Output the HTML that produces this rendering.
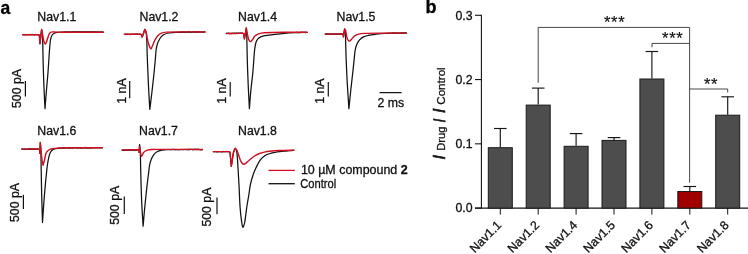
<!DOCTYPE html>
<html lang="en">
<head>
<meta charset="utf-8">
<title>Figure</title>
<style>
html,body{margin:0;padding:0;background:#fff;}
body{width:748px;height:254px;overflow:hidden;}
svg{display:block;font-family:'Liberation Sans', sans-serif;}
</style>
</head>
<body>
<svg width="748" height="254" viewBox="0 0 748 254">
<rect x="0" y="0" width="748" height="254" fill="#ffffff"/>
<text x="0.40" y="13.50" font-size="17.5" font-weight="bold" stroke="#000" stroke-width="0.3" fill="#000">a</text>
<text x="425.60" y="13.40" font-size="18" font-weight="bold" stroke="#000" stroke-width="0.3" fill="#000">b</text>
<path d="M22.80 34.70 C24.00 34.70 27.60 34.70 30.00 34.70 C32.67 34.70 37.23 34.58 38.80 34.70 C39.11 34.72 39.30 35.28 39.40 35.40 C39.48 36.78 39.82 42.32 39.90 43.70 C40.18 41.33 41.32 31.87 41.60 29.50 C41.73 30.25 42.28 32.48 42.40 34.00 C42.60 36.58 42.71 41.33 42.80 45.00 C42.93 50.17 43.01 58.33 43.20 65.00 C43.40 72.17 43.70 80.72 44.00 88.00 C44.28 94.90 44.83 105.25 45.00 108.70 C45.22 105.92 45.84 97.56 46.30 92.00 C46.77 86.38 47.40 80.00 47.80 75.00 C48.15 70.67 48.42 66.17 48.70 62.00 C48.97 58.00 49.20 53.67 49.50 50.00 C49.77 46.66 50.08 42.45 50.50 40.00 C50.78 38.38 51.35 36.43 52.00 35.30 C52.53 34.38 53.45 33.67 54.40 33.20 C55.38 32.72 56.71 32.53 57.90 32.40 C59.67 32.20 62.63 32.04 65.00 32.00 C69.52 31.92 78.62 31.90 85.00 31.90 C91.10 31.90 100.25 31.98 103.30 32.00" fill="none" stroke="#111111" stroke-width="1.25" stroke-linejoin="round" stroke-linecap="round"/>
<path d="M124.40 34.30 C125.67 34.30 129.47 34.30 132.00 34.30 C134.70 34.30 139.03 34.22 140.60 34.30 C140.91 34.32 141.25 34.53 141.40 34.80 C141.65 35.25 141.78 37.13 142.10 37.00 C142.42 36.87 142.94 35.01 143.30 34.00 C143.75 32.73 144.55 30.17 144.80 29.40 C145.02 29.83 145.92 31.05 146.10 32.00 C146.43 33.77 146.67 37.33 146.80 40.00 C146.98 43.83 147.03 50.00 147.20 55.00 C147.37 60.00 147.59 65.00 147.80 70.00 C148.05 75.83 148.37 83.45 148.70 90.00 C149.03 96.44 149.62 106.08 149.80 109.30 C150.12 106.75 151.10 99.10 151.70 94.00 C152.33 88.62 153.05 82.17 153.60 77.00 C154.10 72.34 154.58 67.50 155.00 63.00 C155.40 58.67 155.73 53.08 156.10 50.00 C156.32 48.14 156.77 46.05 157.20 44.50 C157.57 43.19 158.08 41.91 158.70 40.70 C159.35 39.43 160.20 37.93 161.10 36.90 C161.94 35.93 162.95 35.07 164.10 34.50 C165.42 33.85 167.32 33.29 169.00 33.00 C171.12 32.63 174.19 32.41 176.80 32.30 C180.30 32.15 185.60 32.15 190.00 32.10 C194.70 32.05 202.50 32.02 205.00 32.00" fill="none" stroke="#111111" stroke-width="1.25" stroke-linejoin="round" stroke-linecap="round"/>
<path d="M226.40 33.40 C228.00 33.40 233.20 33.40 236.00 33.40 C238.40 33.40 241.90 33.22 243.20 33.40 C243.61 33.46 243.71 34.09 243.80 34.50 C244.00 35.40 244.30 38.08 244.40 38.80 C244.72 37.00 245.98 29.80 246.30 28.00 C246.38 29.33 246.72 33.33 246.80 36.00 C246.97 41.33 247.07 52.00 247.30 60.00 C247.53 68.17 247.85 76.88 248.20 85.00 C248.54 92.90 249.20 104.75 249.40 108.70 C249.65 105.58 250.35 95.78 250.90 90.00 C251.41 84.66 252.22 79.00 252.70 74.00 C253.15 69.34 253.48 64.00 253.80 60.00 C254.06 56.67 254.27 52.83 254.60 50.00 C254.88 47.65 255.28 44.82 255.80 43.00 C256.20 41.61 256.80 40.17 257.70 39.10 C258.60 38.03 259.97 37.18 261.20 36.60 C262.41 36.03 263.78 35.82 265.10 35.60 C267.37 35.22 271.58 34.68 274.80 34.30 C277.99 33.92 281.19 33.55 284.40 33.30 C287.77 33.03 291.46 32.84 295.00 32.70 C298.78 32.55 305.08 32.45 307.10 32.40" fill="none" stroke="#111111" stroke-width="1.25" stroke-linejoin="round" stroke-linecap="round"/>
<path d="M325.20 34.10 C326.83 34.10 332.07 34.10 335.00 34.10 C337.60 34.10 341.40 33.65 342.80 34.10 C343.68 34.38 343.30 36.35 343.40 36.80 C343.60 35.50 344.40 30.30 344.60 29.00 C344.72 29.33 345.24 30.30 345.30 31.00 C345.47 32.83 345.51 37.00 345.60 40.00 C345.73 44.50 345.87 52.00 346.10 58.00 C346.37 65.00 346.76 74.00 347.20 82.00 C347.67 90.45 348.62 104.25 348.90 108.70 C349.22 105.58 350.18 95.78 350.80 90.00 C351.37 84.66 352.07 78.83 352.60 74.00 C353.08 69.67 353.57 65.00 354.00 61.00 C354.40 57.33 354.68 52.87 355.20 50.00 C355.58 47.87 356.37 45.48 357.10 43.80 C357.72 42.38 358.55 41.03 359.60 39.90 C360.67 38.75 362.03 37.62 363.50 36.90 C365.13 36.10 367.39 35.52 369.40 35.10 C371.53 34.65 373.99 34.45 376.30 34.20 C378.77 33.93 381.56 33.64 384.20 33.50 C387.32 33.33 391.40 33.26 395.00 33.20 C398.72 33.13 404.58 33.12 406.50 33.10" fill="none" stroke="#111111" stroke-width="1.25" stroke-linejoin="round" stroke-linecap="round"/>
<path d="M21.80 149.10 C23.17 149.10 27.27 149.10 30.00 149.10 C32.87 149.10 37.40 148.95 39.00 149.10 C39.36 149.13 39.52 149.65 39.60 150.00 C39.75 150.70 39.85 152.75 39.90 153.30 C39.97 151.50 40.23 144.30 40.30 142.50 C40.40 144.08 40.80 148.83 40.90 152.00 C41.05 156.58 41.09 164.00 41.20 170.00 C41.33 177.17 41.49 186.67 41.70 195.00 C41.92 203.75 42.37 217.92 42.50 222.50 C42.73 219.08 43.42 208.42 43.90 202.00 C44.35 196.00 44.95 189.00 45.40 184.00 C45.76 180.00 46.27 175.17 46.60 172.00 C46.85 169.66 47.02 167.32 47.40 165.00 C47.87 162.15 48.73 157.25 49.40 154.90 C49.81 153.47 50.67 151.85 51.40 150.90 C52.00 150.12 52.89 149.56 53.80 149.20 C54.87 148.78 56.45 148.56 57.80 148.40 C59.67 148.18 62.60 147.96 65.00 147.90 C68.70 147.80 75.00 147.83 80.00 147.80 C86.25 147.77 98.75 147.72 102.50 147.70" fill="none" stroke="#111111" stroke-width="1.25" stroke-linejoin="round" stroke-linecap="round"/>
<path d="M122.20 150.20 C123.50 150.18 127.40 150.13 130.00 150.10 C132.73 150.07 137.08 149.63 138.60 150.00 C139.36 150.18 139.02 151.92 139.10 152.30 C139.18 151.02 139.52 145.88 139.60 144.60 C139.72 145.83 140.19 149.52 140.30 152.00 C140.48 156.23 140.54 164.00 140.70 170.00 C140.92 178.00 141.20 190.65 141.60 200.00 C141.97 208.71 142.85 221.75 143.10 226.10 C143.40 222.75 144.25 212.68 144.90 206.00 C145.55 199.33 146.38 191.50 147.00 186.00 C147.49 181.66 148.17 176.50 148.60 173.00 C148.93 170.33 149.18 167.22 149.60 165.00 C149.94 163.20 150.43 161.40 151.10 159.70 C151.77 158.00 152.62 156.13 153.60 154.80 C154.51 153.57 155.67 152.46 157.00 151.70 C158.38 150.92 160.27 150.45 161.90 150.10 C163.51 149.76 165.16 149.65 166.80 149.60 C169.82 149.50 175.60 149.51 180.00 149.50 C185.95 149.48 198.75 149.50 202.50 149.50" fill="none" stroke="#111111" stroke-width="1.25" stroke-linejoin="round" stroke-linecap="round"/>
<path d="M213.40 151.60 C214.83 151.60 219.30 151.60 222.00 151.60 C224.53 151.60 228.33 151.60 229.60 151.60 C229.68 151.92 230.01 152.85 230.10 153.50 C230.28 154.82 230.51 157.50 230.70 159.50 C230.90 161.62 231.20 165.08 231.30 166.20 C231.47 165.17 231.97 162.07 232.30 160.00 C232.68 157.63 233.10 153.95 233.60 152.00 C233.94 150.69 235.02 148.92 235.30 148.30 C235.50 148.67 236.29 149.69 236.50 150.50 C236.82 151.75 237.05 154.02 237.20 155.80 C237.45 158.72 237.75 163.93 238.00 168.00 C238.30 172.87 238.75 180.33 239.00 185.00 C239.20 188.67 239.33 192.50 239.50 196.00 C239.66 199.33 239.78 202.83 240.00 206.00 C240.21 209.00 240.53 212.42 240.80 215.00 C241.02 217.17 241.37 219.78 241.60 221.50 C241.77 222.77 241.97 224.32 242.20 225.30 C242.37 226.03 242.72 227.40 243.00 227.40 C243.28 227.40 243.67 226.02 243.90 225.30 C244.22 224.32 244.68 222.79 244.90 221.50 C245.25 219.45 245.63 215.75 246.00 213.00 C246.36 210.33 246.69 207.66 247.10 205.00 C247.57 202.00 248.26 198.34 248.80 195.00 C249.37 191.50 249.73 187.50 250.50 184.00 C251.24 180.61 252.50 176.67 253.40 174.00 C254.09 171.95 254.95 169.95 255.90 168.00 C257.02 165.70 258.57 162.27 260.10 160.20 C261.45 158.38 263.45 156.72 265.10 155.60 C266.57 154.60 268.38 154.02 270.00 153.50 C271.56 153.00 273.22 152.80 274.80 152.50 C276.36 152.20 277.93 151.93 279.50 151.70 C281.10 151.47 282.76 151.27 284.40 151.10 C286.05 150.93 287.83 150.83 289.40 150.70 C290.87 150.58 293.07 150.37 293.80 150.30" fill="none" stroke="#111111" stroke-width="1.25" stroke-linejoin="round" stroke-linecap="round"/>
<path d="M22.80 34.54 L23.70 34.39 L24.60 34.84 L25.50 34.32 L26.40 34.73 L27.30 34.58 L28.20 34.30 L29.10 34.71 L30.00 34.28 L30.90 34.64 L31.80 34.31 L32.70 34.33 L33.60 34.63 L34.50 34.99 L35.40 34.36 L36.30 34.45 L37.20 34.81 L38.10 35.10" fill="none" stroke="#111111" stroke-width="0.9" stroke-linejoin="round"/>
<path d="M60.00 32.17 L60.90 32.01 L61.80 32.53 L62.70 31.69 L63.60 32.42 L64.50 31.91 L65.40 31.78 L66.30 31.76 L67.20 31.93 L68.10 32.38 L69.00 31.81 L69.90 32.17 L70.80 32.23 L71.70 31.99 L72.60 32.14 L73.50 31.71 L74.40 31.70 L75.30 31.84 L76.20 32.26 L77.10 32.03 L78.00 31.93 L78.90 32.18 L79.80 32.06 L80.70 31.92 L81.60 32.36 L82.50 32.28 L83.40 31.87 L84.30 32.17 L85.20 32.12 L86.10 32.44 L87.00 32.31 L87.90 31.91 L88.80 32.53 L89.70 31.76 L90.60 32.03 L91.50 32.33 L92.40 31.79 L93.30 32.09 L94.20 31.69 L95.10 32.25 L96.00 32.34 L96.90 32.17 L97.80 32.44 L98.70 31.93 L99.60 32.28 L100.50 32.18 L101.40 32.17 L102.30 32.06 L103.20 32.41" fill="none" stroke="#111111" stroke-width="0.9" stroke-linejoin="round"/>
<path d="M124.40 34.70 L125.30 34.28 L126.20 34.45 L127.10 33.90 L128.00 34.48 L128.90 34.43 L129.80 34.74 L130.70 34.59 L131.60 34.11 L132.50 34.20 L133.40 34.45 L134.30 33.87 L135.20 34.27 L136.10 34.00 L137.00 33.96 L137.90 33.90 L138.80 34.54 L139.70 33.97" fill="none" stroke="#111111" stroke-width="0.9" stroke-linejoin="round"/>
<path d="M180.00 31.77 L180.90 31.90 L181.80 32.33 L182.70 31.62 L183.60 31.95 L184.50 32.04 L185.40 32.35 L186.30 32.29 L187.20 32.33 L188.10 31.80 L189.00 31.92 L189.90 31.87 L190.80 32.35 L191.70 32.41 L192.60 31.69 L193.50 31.71 L194.40 31.76 L195.30 31.76 L196.20 31.99 L197.10 32.08 L198.00 31.79 L198.90 31.55 L199.80 31.93 L200.70 31.88 L201.60 32.06 L202.50 32.41 L203.40 32.17 L204.30 32.01" fill="none" stroke="#111111" stroke-width="0.9" stroke-linejoin="round"/>
<path d="M226.40 33.51 L227.30 33.56 L228.20 33.00 L229.10 33.76 L230.00 33.65 L230.90 33.74 L231.80 33.67 L232.70 33.30 L233.60 33.31 L234.50 33.04 L235.40 33.52 L236.30 33.01 L237.20 33.01 L238.10 33.14 L239.00 33.10 L239.90 33.26 L240.80 33.00 L241.70 32.95 L242.60 33.09" fill="none" stroke="#111111" stroke-width="0.9" stroke-linejoin="round"/>
<path d="M296.00 32.14 L296.90 32.37 L297.80 32.06 L298.70 32.81 L299.60 32.57 L300.50 32.14 L301.40 32.23 L302.30 32.31 L303.20 32.31 L304.10 32.09 L305.00 32.73 L305.90 32.85 L306.80 32.37" fill="none" stroke="#111111" stroke-width="0.9" stroke-linejoin="round"/>
<path d="M325.20 34.09 L326.10 33.73 L327.00 33.74 L327.90 33.96 L328.80 33.89 L329.70 34.40 L330.60 33.80 L331.50 33.67 L332.40 34.51 L333.30 34.13 L334.20 33.78 L335.10 34.14 L336.00 33.67 L336.90 34.13 L337.80 34.53 L338.70 34.43 L339.60 34.28 L340.50 33.89 L341.40 33.98 L342.30 33.80" fill="none" stroke="#111111" stroke-width="0.9" stroke-linejoin="round"/>
<path d="M392.00 33.34 L392.90 33.13 L393.80 33.35 L394.70 32.95 L395.60 32.85 L396.50 33.38 L397.40 33.54 L398.30 33.42 L399.20 33.38 L400.10 33.39 L401.00 33.32 L401.90 32.85 L402.80 33.12 L403.70 32.97 L404.60 32.68 L405.50 32.68 L406.40 32.90" fill="none" stroke="#111111" stroke-width="0.9" stroke-linejoin="round"/>
<path d="M21.80 148.88 L22.70 149.27 L23.60 149.51 L24.50 149.05 L25.40 149.49 L26.30 149.54 L27.20 149.51 L28.10 148.98 L29.00 148.85 L29.90 148.85 L30.80 148.83 L31.70 148.83 L32.60 149.21 L33.50 149.46 L34.40 149.41 L35.30 149.08 L36.20 149.24 L37.10 149.37 L38.00 148.73" fill="none" stroke="#111111" stroke-width="0.9" stroke-linejoin="round"/>
<path d="M62.00 147.94 L62.90 148.17 L63.80 148.05 L64.70 148.02 L65.60 147.77 L66.50 147.50 L67.40 148.05 L68.30 147.63 L69.20 148.05 L70.10 148.20 L71.00 147.68 L71.90 147.69 L72.80 148.18 L73.70 147.97 L74.60 147.47 L75.50 147.43 L76.40 147.45 L77.30 148.13 L78.20 148.04 L79.10 147.44 L80.00 148.05 L80.90 148.19 L81.80 147.89 L82.70 147.61 L83.60 147.79 L84.50 147.41 L85.40 147.31 L86.30 148.16 L87.20 147.87 L88.10 147.76 L89.00 148.12 L89.90 147.67 L90.80 148.06 L91.70 148.02 L92.60 147.46 L93.50 147.50 L94.40 147.53 L95.30 147.48 L96.20 147.79 L97.10 147.50 L98.00 147.64 L98.90 147.38 L99.80 148.08 L100.70 147.57 L101.60 147.66" fill="none" stroke="#111111" stroke-width="0.9" stroke-linejoin="round"/>
<path d="M122.20 150.28 L123.10 150.56 L124.00 150.12 L124.90 150.56 L125.80 150.18 L126.70 150.20 L127.60 150.19 L128.50 149.73 L129.40 150.10 L130.30 149.86 L131.20 149.70 L132.10 150.41 L133.00 149.84 L133.90 150.10 L134.80 150.32 L135.70 150.17 L136.60 149.95 L137.50 150.12" fill="none" stroke="#111111" stroke-width="0.9" stroke-linejoin="round"/>
<path d="M170.00 149.55 L170.90 149.76 L171.80 149.15 L172.70 149.55 L173.60 149.27 L174.50 149.30 L175.40 149.75 L176.30 149.51 L177.20 149.56 L178.10 149.73 L179.00 149.87 L179.90 149.45 L180.80 149.60 L181.70 149.50 L182.60 149.51 L183.50 149.67 L184.40 149.46 L185.30 149.53 L186.20 149.48 L187.10 149.90 L188.00 149.68 L188.90 149.84 L189.80 149.90 L190.70 149.28 L191.60 149.55 L192.50 149.90 L193.40 149.81 L194.30 149.17 L195.20 149.16 L196.10 149.45 L197.00 149.12 L197.90 149.27 L198.80 149.12 L199.70 149.65 L200.60 149.76 L201.50 149.86 L202.40 149.19" fill="none" stroke="#111111" stroke-width="0.9" stroke-linejoin="round"/>
<path d="M213.40 151.79 L214.30 151.74 L215.20 151.28 L216.10 151.94 L217.00 152.02 L217.90 151.35 L218.80 152.01 L219.70 151.51 L220.60 151.59 L221.50 152.04 L222.40 151.90 L223.30 151.30 L224.20 151.54 L225.10 151.61 L226.00 151.46 L226.90 151.33 L227.80 151.44 L228.70 151.80" fill="none" stroke="#111111" stroke-width="0.9" stroke-linejoin="round"/>
<path d="M22.80 34.70 C24.00 34.70 27.60 34.70 30.00 34.70 C32.67 34.70 37.23 34.58 38.80 34.70 C39.11 34.72 39.30 35.28 39.40 35.40 C39.48 36.78 39.82 42.32 39.90 43.70 C40.18 41.33 41.32 31.87 41.60 29.50 C41.77 30.42 42.25 33.17 42.60 35.00 C42.97 36.92 43.35 39.47 43.80 41.00 C44.13 42.13 44.80 44.20 45.30 44.20 C45.80 44.20 46.40 42.11 46.80 41.00 C47.37 39.45 48.17 36.25 48.70 34.90 C48.99 34.16 49.58 33.35 50.00 32.90 C50.31 32.56 50.77 32.37 51.20 32.20 C51.63 32.03 52.12 31.91 52.60 31.90 C53.40 31.88 54.87 32.05 56.00 32.10 C57.23 32.15 58.67 32.19 60.00 32.20 C64.00 32.22 73.33 32.20 80.00 32.20 C87.22 32.20 99.42 32.20 103.30 32.20" fill="none" stroke="#cf1020" stroke-width="1.45" stroke-linejoin="round" stroke-linecap="round"/>
<path d="M124.40 34.30 C125.67 34.30 129.47 34.30 132.00 34.30 C134.70 34.30 139.03 34.22 140.60 34.30 C140.91 34.32 141.25 34.53 141.40 34.80 C141.65 35.25 141.78 37.13 142.10 37.00 C142.42 36.87 142.94 35.01 143.30 34.00 C143.75 32.73 144.55 30.17 144.80 29.40 C145.03 30.00 145.88 31.75 146.20 33.00 C146.77 35.18 147.45 39.90 148.20 42.50 C148.81 44.61 149.97 48.10 150.70 48.60 C151.43 49.10 152.06 46.59 152.60 45.50 C153.25 44.18 153.80 42.24 154.60 40.70 C155.43 39.10 156.45 37.15 157.60 35.90 C158.67 34.74 160.05 33.83 161.50 33.20 C162.97 32.57 164.73 32.22 166.40 32.10 C169.48 31.88 175.47 31.92 180.00 31.90 C186.43 31.87 200.83 31.90 205.00 31.90" fill="none" stroke="#cf1020" stroke-width="1.45" stroke-linejoin="round" stroke-linecap="round"/>
<path d="M226.40 33.40 C228.00 33.40 233.20 33.40 236.00 33.40 C238.40 33.40 241.90 33.22 243.20 33.40 C243.61 33.46 243.71 34.09 243.80 34.50 C244.00 35.40 244.30 38.08 244.40 38.80 C244.72 37.00 245.98 29.80 246.30 28.00 C246.47 28.92 246.92 31.68 247.30 33.50 C247.70 35.42 248.13 38.13 248.70 39.50 C249.08 40.42 250.05 41.70 250.70 41.70 C251.35 41.70 252.02 40.28 252.60 39.50 C253.27 38.60 253.77 37.17 254.70 36.30 C255.70 35.37 257.16 34.41 258.60 33.90 C260.23 33.32 262.50 32.93 264.50 32.80 C268.73 32.53 277.50 32.38 284.00 32.30 C291.10 32.22 303.25 32.30 307.10 32.30" fill="none" stroke="#cf1020" stroke-width="1.45" stroke-linejoin="round" stroke-linecap="round"/>
<path d="M325.20 34.10 C326.83 34.10 332.07 34.10 335.00 34.10 C337.60 34.10 341.40 33.65 342.80 34.10 C343.68 34.38 343.30 36.35 343.40 36.80 C343.60 35.50 344.40 30.30 344.60 29.00 C344.77 29.25 345.43 29.92 345.60 30.50 C345.90 31.50 346.07 33.53 346.40 35.00 C346.73 36.45 347.12 38.25 347.60 39.30 C347.97 40.09 348.67 41.27 349.30 41.30 C349.93 41.33 350.75 40.16 351.40 39.50 C352.30 38.58 353.50 36.70 354.70 35.80 C355.83 34.95 357.22 34.44 358.60 34.10 C360.23 33.70 362.52 33.49 364.50 33.40 C368.07 33.23 374.83 33.14 380.00 33.10 C387.00 33.05 402.08 33.10 406.50 33.10" fill="none" stroke="#cf1020" stroke-width="1.45" stroke-linejoin="round" stroke-linecap="round"/>
<path d="M21.80 149.10 C23.17 149.10 27.27 149.10 30.00 149.10 C32.87 149.10 37.40 148.95 39.00 149.10 C39.36 149.13 39.52 149.65 39.60 150.00 C39.75 150.70 39.85 152.75 39.90 153.30 C39.97 151.50 40.23 144.30 40.30 142.50 C40.42 143.75 40.76 147.50 41.00 150.00 C41.28 152.92 41.65 157.47 42.00 160.00 C42.24 161.76 42.92 164.33 43.10 165.20 C43.33 164.33 44.07 161.74 44.50 160.00 C44.98 158.02 45.33 154.93 46.00 153.30 C46.50 152.07 47.50 150.97 48.50 150.20 C49.50 149.43 50.77 149.00 52.00 148.70 C53.42 148.35 55.32 148.18 57.00 148.10 C60.00 147.95 65.67 147.84 70.00 147.80 C77.58 147.73 97.08 147.72 102.50 147.70" fill="none" stroke="#cf1020" stroke-width="1.45" stroke-linejoin="round" stroke-linecap="round"/>
<path d="M122.20 150.00 C123.50 149.98 127.40 149.92 130.00 149.90 C132.73 149.88 137.08 149.50 138.60 149.90 C139.39 150.11 139.02 151.90 139.10 152.30 C139.18 151.35 139.52 147.55 139.60 146.60 C139.73 147.58 140.05 150.90 140.40 152.50 C140.68 153.78 141.15 156.22 141.70 156.20 C142.25 156.18 142.87 153.37 143.70 152.40 C144.48 151.49 145.57 150.81 146.70 150.40 C148.02 149.92 149.94 149.59 151.60 149.50 C154.65 149.33 160.53 149.41 165.00 149.40 C173.48 149.38 196.25 149.40 202.50 149.40" fill="none" stroke="#cf1020" stroke-width="1.45" stroke-linejoin="round" stroke-linecap="round"/>
<path d="M213.40 151.60 C214.83 151.60 219.30 151.60 222.00 151.60 C224.53 151.60 228.33 151.60 229.60 151.60 C229.68 151.92 230.01 152.85 230.10 153.50 C230.28 154.82 230.51 157.50 230.70 159.50 C230.90 161.62 231.20 165.08 231.30 166.20 C231.47 165.17 231.97 162.07 232.30 160.00 C232.68 157.63 233.10 153.95 233.60 152.00 C233.94 150.69 235.02 148.92 235.30 148.30 C235.55 148.62 236.42 149.49 236.80 150.20 C237.28 151.12 237.77 152.59 238.20 153.80 C238.77 155.38 239.60 158.20 240.20 159.70 C240.63 160.78 241.23 162.05 241.80 162.80 C242.26 163.41 242.93 164.12 243.60 164.20 C244.27 164.28 245.15 163.76 245.80 163.30 C246.78 162.60 248.23 161.06 249.50 160.00 C250.95 158.78 252.83 157.08 254.50 156.00 C256.06 154.98 257.83 154.15 259.50 153.50 C261.11 152.87 262.83 152.47 264.50 152.10 C266.15 151.74 267.82 151.48 269.50 151.30 C272.00 151.03 276.16 150.66 279.50 150.50 C283.55 150.30 291.42 150.17 293.80 150.10" fill="none" stroke="#cf1020" stroke-width="1.45" stroke-linejoin="round" stroke-linecap="round"/>
<text x="37.30" y="21.00" font-size="12.3" stroke="#111" stroke-width="0.3" fill="#111">Nav1.1</text>
<text x="139.50" y="21.00" font-size="12.3" stroke="#111" stroke-width="0.3" fill="#111">Nav1.2</text>
<text x="238.10" y="21.00" font-size="12.3" stroke="#111" stroke-width="0.3" fill="#111">Nav1.4</text>
<text x="336.50" y="21.00" font-size="12.3" stroke="#111" stroke-width="0.3" fill="#111">Nav1.5</text>
<text x="37.30" y="135.30" font-size="12.3" stroke="#111" stroke-width="0.3" fill="#111">Nav1.6</text>
<text x="139.00" y="135.30" font-size="12.3" stroke="#111" stroke-width="0.3" fill="#111">Nav1.7</text>
<text x="238.00" y="135.30" font-size="12.3" stroke="#111" stroke-width="0.3" fill="#111">Nav1.8</text>
<line x1="25.40" y1="81.00" x2="25.40" y2="96.50" stroke="#111" stroke-width="1.2" stroke-linecap="butt"/>
<text x="20.60" y="108.00" transform="rotate(-90 20.60 108.00)" font-size="12.3" stroke="#111" stroke-width="0.3" fill="#111">500 pA</text>
<line x1="129.70" y1="81.00" x2="129.70" y2="98.20" stroke="#111" stroke-width="1.2" stroke-linecap="butt"/>
<text x="125.60" y="103.70" transform="rotate(-90 125.60 103.70)" font-size="12.3" stroke="#111" stroke-width="0.3" fill="#111">1 nA</text>
<line x1="230.20" y1="82.00" x2="230.20" y2="96.50" stroke="#111" stroke-width="1.2" stroke-linecap="butt"/>
<text x="225.60" y="103.70" transform="rotate(-90 225.60 103.70)" font-size="12.3" stroke="#111" stroke-width="0.3" fill="#111">1 nA</text>
<line x1="328.30" y1="82.00" x2="328.30" y2="96.50" stroke="#111" stroke-width="1.2" stroke-linecap="butt"/>
<text x="324.50" y="103.80" transform="rotate(-90 324.50 103.80)" font-size="12.3" stroke="#111" stroke-width="0.3" fill="#111">1 nA</text>
<line x1="23.40" y1="194.80" x2="23.40" y2="209.00" stroke="#111" stroke-width="1.2" stroke-linecap="butt"/>
<text x="18.80" y="222.00" transform="rotate(-90 18.80 222.00)" font-size="12.3" stroke="#111" stroke-width="0.3" fill="#111">500 pA</text>
<line x1="124.30" y1="196.60" x2="124.30" y2="214.00" stroke="#111" stroke-width="1.2" stroke-linecap="butt"/>
<text x="118.60" y="224.80" transform="rotate(-90 118.60 224.80)" font-size="12.3" stroke="#111" stroke-width="0.3" fill="#111">500 pA</text>
<line x1="217.00" y1="197.60" x2="217.00" y2="214.20" stroke="#111" stroke-width="1.2" stroke-linecap="butt"/>
<text x="211.40" y="226.60" transform="rotate(-90 211.40 226.60)" font-size="12.3" stroke="#111" stroke-width="0.3" fill="#111">500 pA</text>
<line x1="379.60" y1="92.60" x2="401.60" y2="92.60" stroke="#111" stroke-width="1.25" stroke-linecap="butt"/>
<text x="377.60" y="106.70" font-size="12.3" stroke="#111" stroke-width="0.3" fill="#111">2 ms</text>
<line x1="268.50" y1="170.40" x2="294.80" y2="170.40" stroke="#cf1020" stroke-width="1.3" stroke-linecap="butt"/>
<line x1="268.50" y1="183.70" x2="294.80" y2="183.70" stroke="#111111" stroke-width="1.3" stroke-linecap="butt"/>
<text x="300.9" y="173.8" font-size="12.45" fill="#111" stroke="#111" stroke-width="0.3">10 µM compound <tspan font-weight="bold">2</tspan></text>
<text x="300.20" y="188.00" font-size="12.3" textLength="36.00" lengthAdjust="spacingAndGlyphs" stroke="#111" stroke-width="0.3" fill="#111">Control</text>
<line x1="481.40" y1="14.80" x2="481.40" y2="208.60" stroke="#151515" stroke-width="1.1" stroke-linecap="butt"/>
<line x1="475.00" y1="208.10" x2="748.00" y2="208.10" stroke="#151515" stroke-width="1.1" stroke-linecap="butt"/>
<line x1="475.00" y1="208.10" x2="481.40" y2="208.10" stroke="#151515" stroke-width="1.1" stroke-linecap="butt"/>
<text x="472.60" y="212.40" font-size="12.3" text-anchor="end" stroke="#111" stroke-width="0.3" fill="#111">0.0</text>
<line x1="475.00" y1="143.83" x2="481.40" y2="143.83" stroke="#151515" stroke-width="1.1" stroke-linecap="butt"/>
<text x="472.60" y="148.13" font-size="12.3" text-anchor="end" stroke="#111" stroke-width="0.3" fill="#111">0.1</text>
<line x1="475.00" y1="79.56" x2="481.40" y2="79.56" stroke="#151515" stroke-width="1.1" stroke-linecap="butt"/>
<text x="472.60" y="83.86" font-size="12.3" text-anchor="end" stroke="#111" stroke-width="0.3" fill="#111">0.2</text>
<line x1="475.00" y1="15.29" x2="481.40" y2="15.29" stroke="#151515" stroke-width="1.1" stroke-linecap="butt"/>
<text x="472.60" y="19.59" font-size="12.3" text-anchor="end" stroke="#111" stroke-width="0.3" fill="#111">0.3</text>
<line x1="500.30" y1="128.50" x2="500.30" y2="147.20" stroke="#151515" stroke-width="1.15" stroke-linecap="butt"/>
<line x1="494.00" y1="128.50" x2="506.60" y2="128.50" stroke="#151515" stroke-width="1.15" stroke-linecap="butt"/>
<rect x="488.30" y="147.70" width="24.00" height="60.40" fill="#4d4d4d" stroke="#1a1a1a" stroke-width="1"/>
<line x1="500.30" y1="208.10" x2="500.30" y2="214.60" stroke="#151515" stroke-width="1.0" stroke-linecap="butt"/>
<text x="502.20" y="225.90" transform="rotate(-45 502.20 225.90)" font-size="12.3" text-anchor="end" stroke="#111" stroke-width="0.3" fill="#111">Nav1.1</text>
<line x1="538.20" y1="88.10" x2="538.20" y2="104.60" stroke="#151515" stroke-width="1.15" stroke-linecap="butt"/>
<line x1="531.90" y1="88.10" x2="544.50" y2="88.10" stroke="#151515" stroke-width="1.15" stroke-linecap="butt"/>
<rect x="526.20" y="105.10" width="24.00" height="103.00" fill="#4d4d4d" stroke="#1a1a1a" stroke-width="1"/>
<line x1="538.20" y1="208.10" x2="538.20" y2="214.60" stroke="#151515" stroke-width="1.0" stroke-linecap="butt"/>
<text x="540.10" y="225.90" transform="rotate(-45 540.10 225.90)" font-size="12.3" text-anchor="end" stroke="#111" stroke-width="0.3" fill="#111">Nav1.2</text>
<line x1="576.10" y1="133.60" x2="576.10" y2="145.80" stroke="#151515" stroke-width="1.15" stroke-linecap="butt"/>
<line x1="569.80" y1="133.60" x2="582.40" y2="133.60" stroke="#151515" stroke-width="1.15" stroke-linecap="butt"/>
<rect x="564.10" y="146.30" width="24.00" height="61.80" fill="#4d4d4d" stroke="#1a1a1a" stroke-width="1"/>
<line x1="576.10" y1="208.10" x2="576.10" y2="214.60" stroke="#151515" stroke-width="1.0" stroke-linecap="butt"/>
<text x="578.00" y="225.90" transform="rotate(-45 578.00 225.90)" font-size="12.3" text-anchor="end" stroke="#111" stroke-width="0.3" fill="#111">Nav1.4</text>
<line x1="614.00" y1="137.60" x2="614.00" y2="139.90" stroke="#151515" stroke-width="1.15" stroke-linecap="butt"/>
<line x1="607.70" y1="137.60" x2="620.30" y2="137.60" stroke="#151515" stroke-width="1.15" stroke-linecap="butt"/>
<rect x="602.00" y="140.40" width="24.00" height="67.70" fill="#4d4d4d" stroke="#1a1a1a" stroke-width="1"/>
<line x1="614.00" y1="208.10" x2="614.00" y2="214.60" stroke="#151515" stroke-width="1.0" stroke-linecap="butt"/>
<text x="615.90" y="225.90" transform="rotate(-45 615.90 225.90)" font-size="12.3" text-anchor="end" stroke="#111" stroke-width="0.3" fill="#111">Nav1.5</text>
<line x1="651.90" y1="51.50" x2="651.90" y2="78.50" stroke="#151515" stroke-width="1.15" stroke-linecap="butt"/>
<line x1="645.60" y1="51.50" x2="658.20" y2="51.50" stroke="#151515" stroke-width="1.15" stroke-linecap="butt"/>
<rect x="639.90" y="79.00" width="24.00" height="129.10" fill="#4d4d4d" stroke="#1a1a1a" stroke-width="1"/>
<line x1="651.90" y1="208.10" x2="651.90" y2="214.60" stroke="#151515" stroke-width="1.0" stroke-linecap="butt"/>
<text x="653.80" y="225.90" transform="rotate(-45 653.80 225.90)" font-size="12.3" text-anchor="end" stroke="#111" stroke-width="0.3" fill="#111">Nav1.6</text>
<line x1="689.80" y1="186.50" x2="689.80" y2="191.00" stroke="#151515" stroke-width="1.15" stroke-linecap="butt"/>
<line x1="683.50" y1="186.50" x2="696.10" y2="186.50" stroke="#151515" stroke-width="1.15" stroke-linecap="butt"/>
<rect x="677.80" y="191.50" width="24.00" height="16.60" fill="#a00000" stroke="#1a1a1a" stroke-width="1"/>
<line x1="689.80" y1="208.10" x2="689.80" y2="214.60" stroke="#151515" stroke-width="1.0" stroke-linecap="butt"/>
<text x="691.70" y="225.90" transform="rotate(-45 691.70 225.90)" font-size="12.3" text-anchor="end" stroke="#111" stroke-width="0.3" fill="#111">Nav1.7</text>
<line x1="727.70" y1="96.80" x2="727.70" y2="114.70" stroke="#151515" stroke-width="1.15" stroke-linecap="butt"/>
<line x1="721.40" y1="96.80" x2="734.00" y2="96.80" stroke="#151515" stroke-width="1.15" stroke-linecap="butt"/>
<rect x="715.70" y="115.20" width="24.00" height="92.90" fill="#4d4d4d" stroke="#1a1a1a" stroke-width="1"/>
<line x1="727.70" y1="208.10" x2="727.70" y2="214.60" stroke="#151515" stroke-width="1.0" stroke-linecap="butt"/>
<text x="729.60" y="225.90" transform="rotate(-45 729.60 225.90)" font-size="12.3" text-anchor="end" stroke="#111" stroke-width="0.3" fill="#111">Nav1.8</text>
<path d="M538.2 82.8 V27.4 H689.6 V182.7" fill="none" stroke="#262626" stroke-width="0.85"/>
<path d="M652.0 47.3 V43.4 H689.6" fill="none" stroke="#262626" stroke-width="0.85"/>
<path d="M689.6 89.0 H727.7 V92.5" fill="none" stroke="#262626" stroke-width="0.85"/>
<text x="614.70" y="28.00" font-size="16.5" text-anchor="middle" stroke="#111" stroke-width="0.2" fill="#111" letter-spacing="0.7">***</text>
<text x="672.80" y="44.20" font-size="16.5" text-anchor="middle" stroke="#111" stroke-width="0.2" fill="#111" letter-spacing="0.7">***</text>
<text x="711.00" y="90.00" font-size="16.5" text-anchor="middle" stroke="#111" stroke-width="0.2" fill="#111" letter-spacing="0.7">**</text>
<text x="444.70" y="159.60" transform="rotate(-90 444.70 159.60)" font-size="16.1" font-style="italic" stroke="#111" stroke-width="0.55" fill="#111">I</text>
<text x="444.90" y="150.70" transform="rotate(-90 444.90 150.70)" font-size="11.2" stroke="#111" stroke-width="0.3" fill="#111">Drug</text>
<text transform="translate(444.7 122.0) rotate(-90) skewX(6)" font-size="16" fill="#111" stroke="#111" stroke-width="0.55">/</text>
<text x="444.70" y="113.00" transform="rotate(-90 444.70 113.00)" font-size="16.1" font-style="italic" stroke="#111" stroke-width="0.55" fill="#111">I</text>
<text x="444.90" y="104.70" transform="rotate(-90 444.90 104.70)" font-size="11.6" stroke="#111" stroke-width="0.3" fill="#111">Control</text>
</svg>
</body>
</html>
